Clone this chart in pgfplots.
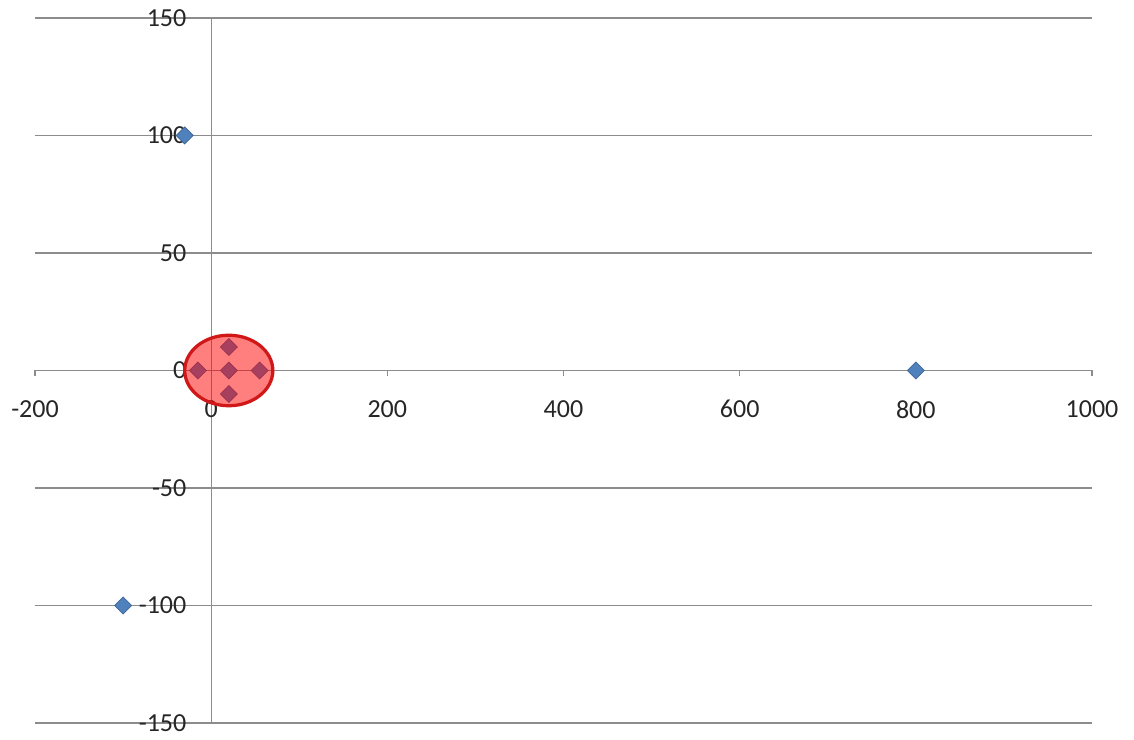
\documentclass[border=0pt]{standalone}
\usepackage{pgfplots}
\pgfplotsset{compat=1.18}
\usepackage{fontspec}
\setmainfont{Carlito}
\definecolor{excelblue}{HTML}{4F81BD}
\definecolor{gridgray}{HTML}{8C8C8C}
\definecolor{ringred}{HTML}{D01818}
\begin{document}
\begin{tikzpicture}[font=\fontsize{10.4pt}{12pt}\selectfont]
\useasboundingbox (-14pt,-6.8pt) rectangle (439.6pt,289.2pt);
\begin{axis}[
  at={(0,0)}, anchor=south west,
  scale only axis, width=422.8pt, height=282pt,
  xmin=-200, xmax=1000, ymin=-150, ymax=150,
  axis lines=middle,
  axis line style={-, gridgray, line width=0.5pt},
  every inner x axis line/.append style={-},
  every inner y axis line/.append style={-},
  xtick={-200,0,...,1000},
  ytick={-150,-100,...,150},
  hide obscured x ticks=false,
  hide obscured y ticks=false,
  ymajorgrids,
  grid style={gridgray, line width=0.5pt},
  major tick length=2.4pt,
  xtick style={gridgray, line width=0.5pt},
  ytick style={draw=none},
  tick align=outside,
  /pgf/number format/assume math mode=true,
  /pgf/number format/1000 sep={},
  xticklabel style={anchor=north, yshift=-6pt, text=black!85},
  yticklabel style={anchor=east, xshift=-4pt, text=black!85},
  clip=false,
]
% scattered points
\addplot[only marks, mark=square*, mark size=2.4pt,
  mark options={rotate=45, fill=excelblue, draw=excelblue!80!black, line width=0.3pt}]
  coordinates {
    (-30,100) (-100,-100) (800,0)
    (-15,0) (20,0) (55,0) (20,10) (20,-10)
  };
% centre of the highlighted cluster
\coordinate (cluster) at (axis cs:20,0);
\end{axis}
% highlight ring over the cluster: 50 x-units by 15 y-units
\draw[draw=ringred, line width=1.3pt, fill=red, fill opacity=0.5]
  (cluster) ellipse [x radius=17.62pt, y radius=14.1pt];
\end{tikzpicture}
\end{document}
